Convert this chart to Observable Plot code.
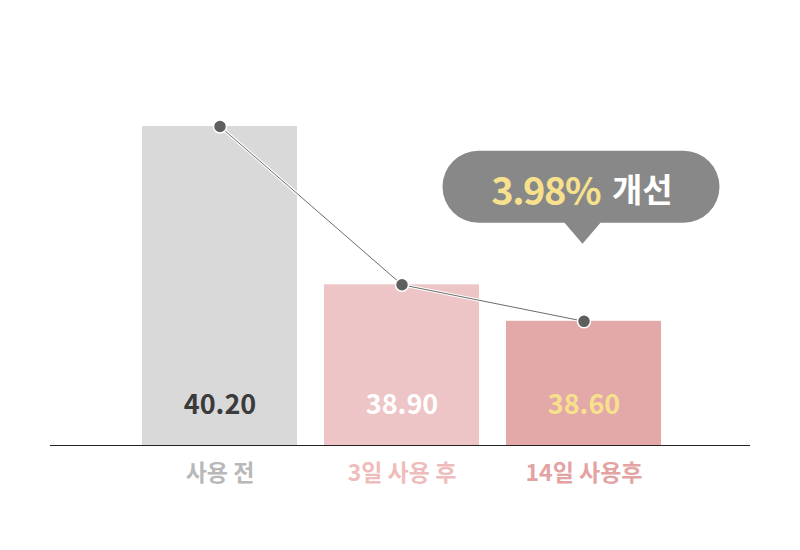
<!DOCTYPE html>
<html>
<head>
<meta charset="utf-8">
<script src="https://cdn.jsdelivr.net/npm/d3@7"></script>
<script src="https://cdn.jsdelivr.net/npm/@observablehq/plot@0.6"></script>
<style>
  html, body { margin: 0; padding: 0; background: #fff; }
  #chart svg { display: block; }
</style>
</head>
<body>
<div id="chart"></div>
<script>
// Data
const categories = ["사용 전", "3일 사용 후", "14일 사용후"];
const values = [40.20, 38.90, 38.60];
const barColors = ["#d9d9d9", "#edc5c6", "#e3a8a8"];
const valueLabelColors = ["#3b3b3b", "#ffffff", "#f7e18d"];
const categoryLabelColors = ["#b8b8b8", "#efbcbc", "#e3a3a3"];
const calloutValue = "3.98%";
const calloutWord = "개선";
const baseValue = 37.58;

const data = categories.map((c, i) => ({
  category: c, value: values[i], label: values[i].toFixed(2),
  fill: barColors[i], labelColor: valueLabelColors[i], catColor: categoryLabelColors[i]
}));

const font = "'Noto Sans CJK KR', 'Noto Sans', sans-serif";

function callout(index, scales, vals, dims, context) {
  const last = data[data.length - 1];
  const cx = scales.x(last.category) + scales.x.bandwidth() / 2 - 1;
  const tipY = scales.y(last.value) - 77;
  const w = 277, h = 72, r = 36;
  const top = tipY - 21 - h;
  const left = cx - 140;
  const g = d3.create("svg:g");
  const p = d3.path();
  p.moveTo(left + r, top);
  p.lineTo(left + w - r, top);
  p.arc(left + w - r, top + r, r, -Math.PI / 2, Math.PI / 2);
  p.lineTo(cx + 18, top + h);
  p.lineTo(cx, tipY);
  p.lineTo(cx - 18, top + h);
  p.lineTo(left + r, top + h);
  p.arc(left + r, top + r, r, Math.PI / 2, 3 * Math.PI / 2);
  p.closePath();
  g.append("path").attr("d", p.toString()).attr("fill", "#888888");
  const t = g.append("text")
    .attr("x", left + w / 2 + 1).attr("y", top + h / 2 + 1)
    .attr("text-anchor", "middle").attr("dominant-baseline", "central")
    .attr("font-family", font).attr("font-weight", 700);
  t.append("tspan").attr("fill", "#f7e18d").attr("font-size", 38).attr("letter-spacing", "-1.5").text(calloutValue);
  t.append("tspan").attr("fill", "#ffffff").attr("font-size", 33).attr("dx", 12).text(calloutWord);
  return g.node();
}

const chart = Plot.plot({
  width: 800,
  height: 550,
  marginLeft: 50,
  marginRight: 50,
  marginTop: 0,
  marginBottom: 105,
  style: { fontFamily: font, background: "#fff" },
  x: { domain: categories, range: [128.5, 674.5], paddingInner: 0.148, paddingOuter: 0.074, axis: null },
  y: { domain: [baseValue, 40.20], range: [445, 126], axis: null },
  marks: [
    Plot.barY(data, { x: "category", y1: () => baseValue, y2: "value", fill: "fill" }),
    Plot.ruleY([baseValue], { stroke: "#222", strokeWidth: 1.2 }),
    Plot.line(data, { x: "category", y: "value", stroke: "#ffffff", strokeWidth: 3 }),
    Plot.line(data, { x: "category", y: "value", stroke: "#6b6b6b", strokeWidth: 1 }),
    Plot.dot(data, { x: "category", y: "value", r: 6.5, fill: "#5f5f5f", stroke: "#ffffff", strokeWidth: 1.5 }),
    Plot.text(data, { x: "category", y: () => baseValue, text: "label", fill: "labelColor",
      dy: -40, fontSize: 27, fontWeight: 700, letterSpacing: -1 }),
    Plot.text(data, { x: "category", y: () => baseValue, text: "category", fill: "catColor",
      dy: 28, fontSize: 23, fontWeight: 700 }),
    callout
  ]
});
document.getElementById("chart").appendChild(chart);
</script>
</body>
</html>
